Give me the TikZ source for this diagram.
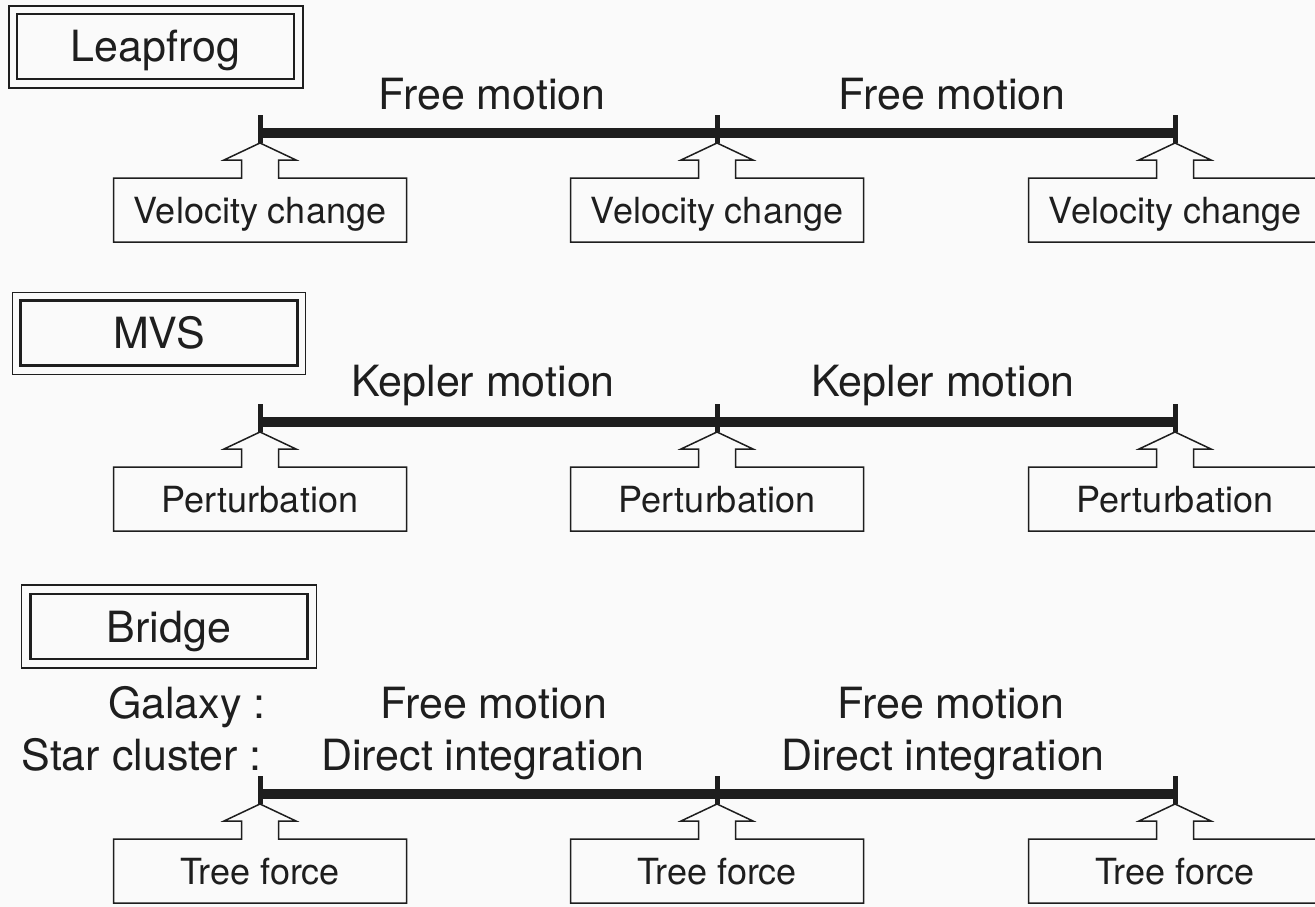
\documentclass[tikz,border=0pt]{standalone}
\usepackage{fontspec}
\setmainfont{TeX Gyre Heros}
\usetikzlibrary{calc}
\definecolor{bg}{RGB}{250,250,250}
\definecolor{ink}{RGB}{30,30,30}
\tikzset{
  big/.style={font=\fontsize{43pt}{52pt}\selectfont, text=ink, inner sep=0pt},
  small/.style={font=\fontsize{36pt}{43pt}\selectfont, text=ink},
  titlebox/.style={draw=ink, line width=2.6pt, minimum width=277pt, minimum height=65pt,
    inner sep=0pt, outer sep=0pt, text height=31pt, text depth=0pt, big},
  frame/.style={draw=ink, line width=1.6pt},
  evbox/.style={minimum width=293pt, minimum height=64pt, inner sep=0pt, outer sep=0pt,
    text height=26pt, text depth=0pt, small},
  callout/.style={draw=ink, line width=1.5pt, line join=miter},
  bar/.style={draw=ink, line width=10pt},
  tickmark/.style={draw=ink, line width=5pt},
}
\newcommand\mytimeline[3]{%
  \foreach \i/\x in {1/260,2/717,3/1175}{
    \coordinate (#1t\i) at (\x,133+#2);
    \coordinate (#1a\i) at (\x,143+#2);
    \node[evbox] (#1b\i) at (\x,210+#2) {#3};
    \draw[callout] (#1b\i.north west) -- (#1b\i.south west) -- (#1b\i.south east)
      -- (#1b\i.north east) -- ($(#1b\i.north)+(18.5,0)$) -- ++(0,-18) -- ++(17.5,0)
      -- (#1a\i) -- ($(#1b\i.north)+(-36,-18)$) -- ++(17.5,0) -- ++(0,18) -- cycle;
    \draw[tickmark] ($(#1t\i)+(0,-18)$) -- (#1a\i);
  }
  \draw[bar] (#1t1) -- (#1t3);
}
\begin{document}
\begin{tikzpicture}[x=1pt,y=-1pt]
\fill[bg] (0,0) rectangle (1315,907);
\useasboundingbox (0,0) rectangle (1315,907);

% Leapfrog
\node[titlebox] (lf) at (155.5,46.5) {Leapfrog};
\draw[frame] ($(lf.north west)+(-8,-8)$) rectangle ($(lf.south east)+(9,9)$);
\node[big, anchor=base] (lfm1) at (492,110) {Free motion};
\node[big, anchor=base] (lfm2) at (952,110) {Free motion};
\mytimeline{L}{0}{Velocity change}

% MVS
\node[titlebox] (mvs) at (159,333) {MVS};
\draw[frame] ($(mvs.north west)+(-8,-8)$) rectangle ($(mvs.south east)+(8,9)$);
\node[big, anchor=base] (km1) at (483,396) {Kepler motion};
\node[big, anchor=base] (km2) at (943,396) {Kepler motion};
\mytimeline{M}{289}{Perturbation}

% Bridge
\node[titlebox] (br) at (169,626.5) {Bridge};
\draw[frame] ($(br.north west)+(-9,-9)$) rectangle ($(br.south east)+(9,9)$);
\node[big, anchor=base east] (gal) at (266,718) {Galaxy :};
\node[big, anchor=base east] (sc) at (262,770) {Star cluster :};
\node[big, anchor=base] (bfm1) at (494,718) {Free motion};
\node[big, anchor=base] (bfm2) at (951,718) {Free motion};
\node[big, anchor=base] (di1) at (483,770) {Direct integration};
\node[big, anchor=base] (di2) at (943,770) {Direct integration};
\mytimeline{B}{661}{Tree force}
\end{tikzpicture}
\end{document}
